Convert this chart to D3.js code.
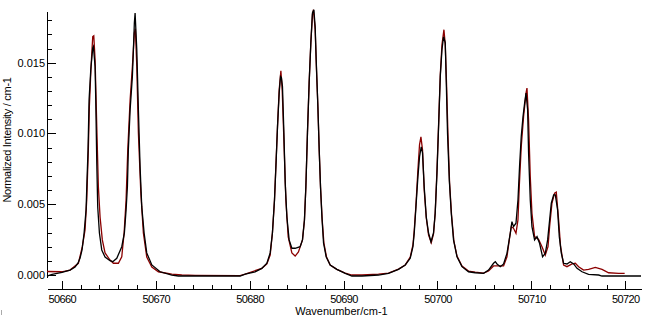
<!DOCTYPE html>
<html>
<head>
<meta charset="utf-8">
<script src="https://cdn.jsdelivr.net/npm/d3@7"></script>
<style>
  html, body { margin: 0; padding: 0; background: #fff; }
  svg { display: block; }
  text { font-family: "Liberation Sans", Arial, sans-serif; font-size: 11px; fill: #000; }
</style>
</head>
<body>
<script>
// measured spectrum (black), [wavenumber, intensity]
var measured = [
  [50658.43, -0.00007], [50658.97, 0.00004], [50660.03, 0.00018], [50660.88, 0.00035],
  [50661.42, 0.00057], [50661.74, 0.00085], [50661.95, 0.00120], [50662.16, 0.00177],
  [50662.38, 0.00297], [50662.59, 0.00460], [50662.69, 0.00672], [50662.80, 0.00884],
  [50662.91, 0.01238], [50663.09, 0.01450], [50663.30, 0.01605], [50663.37, 0.01615],
  [50663.55, 0.01471], [50663.62, 0.01238], [50663.73, 0.00792], [50663.83, 0.00481],
  [50664.01, 0.00297], [50664.26, 0.00177], [50664.61, 0.00127], [50665.14, 0.00101],
  [50665.43, 0.00094], [50665.86, 0.00118], [50666.39, 0.00200], [50666.67, 0.00297],
  [50666.85, 0.00460], [50666.99, 0.00624], [50667.09, 0.00884], [50667.28, 0.01167],
  [50667.52, 0.01402], [50667.63, 0.01591], [50667.73, 0.01782], [50667.81, 0.01851],
  [50667.99, 0.01591], [50668.16, 0.01167], [50668.34, 0.00764], [50668.52, 0.00481],
  [50668.77, 0.00297], [50669.05, 0.00156], [50669.59, 0.00071], [50670.47, 0.00023],
  [50671.72, 0.00000], [50672.42, -0.00007], [50674.20, -0.00007], [50678.99, -0.00007],
  [50679.53, 0.00007], [50680.59, 0.00023], [50681.30, 0.00047], [50681.84, 0.00083],
  [50682.19, 0.00156], [50682.43, 0.00297], [50682.65, 0.00530], [50682.83, 0.00813],
  [50682.97, 0.01047], [50683.15, 0.01287], [50683.29, 0.01402], [50683.39, 0.01393],
  [50683.50, 0.01332], [50683.65, 0.01004], [50683.79, 0.00651], [50683.97, 0.00410],
  [50684.21, 0.00248], [50684.50, 0.00189], [50684.85, 0.00189], [50685.38, 0.00200],
  [50685.63, 0.00248], [50685.84, 0.00389], [50685.99, 0.00624], [50686.16, 0.01004],
  [50686.34, 0.01358], [50686.52, 0.01641], [50686.69, 0.01851], [50686.84, 0.01874],
  [50686.98, 0.01756], [50687.09, 0.01521], [50687.27, 0.01188], [50687.41, 0.00884],
  [50687.55, 0.00622], [50687.70, 0.00410], [50687.87, 0.00226], [50688.15, 0.00129],
  [50688.58, 0.00071], [50689.29, 0.00040], [50690.18, 0.00012], [50690.89, -0.00007],
  [50691.96, -0.00007], [50693.72, 0.00000], [50694.79, 0.00012], [50695.85, 0.00040],
  [50696.57, 0.00071], [50697.10, 0.00118], [50697.39, 0.00200], [50697.53, 0.00297],
  [50697.71, 0.00481], [50697.92, 0.00693], [50698.09, 0.00834], [50698.27, 0.00905],
  [50698.41, 0.00863], [50698.59, 0.00622], [50698.81, 0.00410], [50699.05, 0.00297],
  [50699.31, 0.00235], [50699.58, 0.00297], [50699.76, 0.00438], [50699.95, 0.00721],
  [50700.12, 0.01047], [50700.30, 0.01400], [50700.48, 0.01591], [50700.65, 0.01683],
  [50700.83, 0.01641], [50700.94, 0.01358], [50701.07, 0.01004], [50701.26, 0.00672],
  [50701.47, 0.00438], [50701.71, 0.00248], [50702.08, 0.00129], [50702.61, 0.00059],
  [50703.31, 0.00023], [50704.02, 0.00016], [50704.91, 0.00012], [50705.44, 0.00035],
  [50705.97, 0.00083], [50706.16, 0.00094], [50706.34, 0.00078], [50706.69, 0.00059],
  [50707.04, 0.00078], [50707.40, 0.00153], [50707.75, 0.00295], [50707.93, 0.00377],
  [50708.10, 0.00342], [50708.36, 0.00366], [50708.57, 0.00530], [50708.74, 0.00766],
  [50708.92, 0.00978], [50709.11, 0.01120], [50709.28, 0.01214], [50709.43, 0.01285],
  [50709.60, 0.01167], [50709.70, 0.00863], [50709.88, 0.00530], [50710.06, 0.00342],
  [50710.34, 0.00248], [50710.60, 0.00271], [50710.87, 0.00224], [50711.19, 0.00129],
  [50711.48, 0.00153], [50711.73, 0.00248], [50711.94, 0.00389], [50712.12, 0.00507],
  [50712.37, 0.00566], [50712.55, 0.00566], [50712.79, 0.00460], [50712.97, 0.00271],
  [50713.19, 0.00153], [50713.43, 0.00083], [50713.79, 0.00078], [50714.14, 0.00094],
  [50714.50, 0.00078], [50714.86, 0.00047], [50715.39, 0.00023], [50716.09, 0.00005],
  [50717.16, 0.00000], [50717.52, -0.00007], [50721.67, -0.00007]
];

// simulated spectrum (dark red), [wavenumber, intensity]
var simulated = [
  [50658.43, 0.00025], [50660.00, 0.00023], [50660.88, 0.00035], [50661.77, 0.00083],
  [50662.19, 0.00200], [50662.48, 0.00318], [50662.66, 0.00530], [50662.83, 0.00884],
  [50662.94, 0.01188], [50663.12, 0.01471], [50663.30, 0.01685], [50663.41, 0.01690],
  [50663.55, 0.01521], [50663.73, 0.01047], [50663.90, 0.00622], [50664.08, 0.00410],
  [50664.32, 0.00248], [50664.61, 0.00156], [50665.14, 0.00106], [50665.50, 0.00083],
  [50666.03, 0.00083], [50666.39, 0.00129], [50666.64, 0.00297], [50666.85, 0.00530],
  [50667.03, 0.00884], [50667.28, 0.01238], [50667.52, 0.01471], [50667.73, 0.01711],
  [50667.84, 0.01740], [50667.99, 0.01471], [50668.16, 0.01004], [50668.42, 0.00580],
  [50668.69, 0.00297], [50669.05, 0.00127], [50669.59, 0.00057], [50670.29, 0.00023],
  [50671.72, 0.00007], [50672.78, 0.00000], [50674.20, -0.00002], [50678.99, -0.00004],
  [50679.53, 0.00007], [50681.30, 0.00047], [50681.84, 0.00078], [50682.19, 0.00141],
  [50682.43, 0.00297], [50682.65, 0.00530], [50682.97, 0.01047], [50683.15, 0.01308],
  [50683.33, 0.01443], [50683.47, 0.01308], [50683.65, 0.00955], [50683.86, 0.00530],
  [50684.11, 0.00269], [50684.50, 0.00156], [50684.85, 0.00134], [50685.20, 0.00163],
  [50685.63, 0.00248], [50685.84, 0.00389], [50685.99, 0.00624], [50686.16, 0.01004],
  [50686.34, 0.01358], [50686.52, 0.01641], [50686.69, 0.01839], [50686.80, 0.01874],
  [50686.98, 0.01733], [50687.12, 0.01450], [50687.27, 0.01188], [50687.41, 0.00884],
  [50687.55, 0.00622], [50687.73, 0.00389], [50687.91, 0.00226], [50688.19, 0.00127],
  [50688.58, 0.00071], [50689.29, 0.00040], [50690.18, 0.00014], [50690.89, 0.00000],
  [50691.96, 0.00000], [50693.72, 0.00007], [50694.79, 0.00014], [50695.85, 0.00042],
  [50696.57, 0.00071], [50697.10, 0.00127], [50697.39, 0.00212], [50697.53, 0.00318],
  [50697.71, 0.00495], [50697.92, 0.00743], [50698.09, 0.00919], [50698.24, 0.00976],
  [50698.41, 0.00884], [50698.59, 0.00601], [50698.81, 0.00403], [50699.05, 0.00283],
  [50699.34, 0.00228], [50699.58, 0.00290], [50699.76, 0.00438], [50699.95, 0.00743],
  [50700.12, 0.01061], [50700.30, 0.01414], [50700.48, 0.01627], [50700.69, 0.01733],
  [50700.83, 0.01627], [50700.97, 0.01344], [50701.12, 0.00990], [50701.29, 0.00651],
  [50701.50, 0.00424], [50701.75, 0.00240], [50702.08, 0.00134], [50702.61, 0.00064],
  [50703.31, 0.00028], [50704.02, 0.00021], [50704.91, 0.00014], [50705.44, 0.00028],
  [50705.97, 0.00064], [50706.51, 0.00064], [50707.04, 0.00064], [50707.40, 0.00129],
  [50707.65, 0.00248], [50707.86, 0.00342], [50708.10, 0.00330], [50708.36, 0.00295],
  [50708.57, 0.00389], [50708.71, 0.00624], [50708.92, 0.00907], [50709.17, 0.01120],
  [50709.43, 0.01285], [50709.53, 0.01320], [50709.70, 0.01096], [50709.88, 0.00695],
  [50710.06, 0.00436], [50710.34, 0.00271], [50710.77, 0.00252], [50711.13, 0.00200],
  [50711.48, 0.00141], [50711.77, 0.00200], [50711.94, 0.00342], [50712.19, 0.00507],
  [50712.47, 0.00578], [50712.65, 0.00585], [50712.90, 0.00389], [50713.11, 0.00200],
  [50713.43, 0.00071], [50713.79, 0.00059], [50714.33, 0.00078], [50714.68, 0.00083],
  [50715.03, 0.00059], [50715.56, 0.00035], [50716.09, 0.00040], [50716.81, 0.00054],
  [50717.52, 0.00040], [50718.22, 0.00016], [50719.29, 0.00012], [50719.93, 0.00012]
];

var xMajorTicks = [50660, 50670, 50680, 50690, 50700, 50710, 50720];
var xMinorTicks = [50662, 50664, 50666, 50668, 50672, 50674, 50676, 50678, 50682, 50684,
  50686, 50688, 50692, 50694, 50696, 50698, 50702, 50704, 50706, 50708, 50712, 50714,
  50716, 50718];
var yMajorTicks = [0, 0.005, 0.010, 0.015];
var yTickLabels = ['0.000', '0.005', '0.010', '0.015'];
var yMinorTicks = [0.001, 0.002, 0.003, 0.004, 0.006, 0.007, 0.008, 0.009, 0.011, 0.012,
  0.013, 0.014, 0.016, 0.017, 0.018];

var
  config = {
    w : 648,
    h : 324,
    left : 47,
    right : 641,
    top : 11,
    yBottom : 277,
    xAxisY : 289
  },

  svg,

  draw = function draw() {
    svg = d3.select('body').append('svg')
      .attr('width', config.w)
      .attr('height', config.h);

    var x = d3.scaleLinear()
      .domain([50658.43, 50721.67])
      .range([config.left, config.right]);

    var y = d3.scaleLinear()
      .domain([-0.00014, 0.01865])
      .range([config.yBottom, config.top]);

    // x axis: ticks point up into the plot
    var gx = svg.append('g')
      .attr('transform', 'translate(0,' + config.xAxisY + ')')
      .call(d3.axisBottom(x)
        .tickValues(xMajorTicks)
        .tickFormat(d3.format('d'))
        .tickSizeInner(-8)
        .tickSizeOuter(0)
        .tickPadding(6.5));

    svg.append('g')
      .attr('transform', 'translate(0,' + config.xAxisY + ')')
      .call(d3.axisBottom(x).tickValues(xMinorTicks).tickFormat('').tickSize(-4))
      .call(function (g) { g.select('.domain').remove(); });

    // y axis: ticks point right into the plot
    var gy = svg.append('g')
      .attr('transform', 'translate(' + config.left + ',0)')
      .call(d3.axisLeft(y)
        .tickValues(yMajorTicks)
        .tickFormat(function (d, i) { return yTickLabels[i]; })
        .tickSizeInner(-9)
        .tickSizeOuter(0)
        .tickPadding(2));

    svg.append('g')
      .attr('transform', 'translate(' + config.left + ',0)')
      .call(d3.axisLeft(y).tickValues(yMinorTicks).tickFormat('').tickSize(-5))
      .call(function (g) { g.select('.domain').remove(); });

    svg.selectAll('.domain, .tick line')
      .attr('stroke', '#000')
      .attr('stroke-width', 1)
      .attr('shape-rendering', 'crispEdges');

    svg.selectAll('.tick text')
      .attr('font-family', '"Liberation Sans", Arial, sans-serif')
      .attr('font-size', 11)
      .attr('fill', '#000');

    gx.selectAll('.tick text').attr('letter-spacing', '-0.6px');

    // axis titles
    svg.append('text')
      .attr('x', 341.5)
      .attr('y', 315)
      .attr('text-anchor', 'middle')
      .text('Wavenumber/cm-1');

    svg.append('text')
      .attr('transform', 'translate(11,140) rotate(-90)')
      .attr('text-anchor', 'middle')
      .attr('letter-spacing', '-0.3px')
      .text('Normalized Intensity / cm-1');

    svg.append('rect')
      .attr('x', 1).attr('y', 310).attr('width', 1).attr('height', 5)
      .attr('fill', '#aaa');

    var line = d3.line()
      .x(function (d) { return x(d[0]); })
      .y(function (d) { return y(d[1]); });

    svg.append('path')
      .datum(simulated)
      .attr('fill', 'none')
      .attr('stroke', '#8b0000')
      .attr('stroke-width', 1.3)
      .attr('d', line);

    svg.append('path')
      .datum(measured)
      .attr('fill', 'none')
      .attr('stroke', '#000')
      .attr('stroke-width', 1.3)
      .attr('d', line);
  },

  init = function init() {
    draw();
  };

window.addEventListener('load', init, false);
</script>
</body>
</html>
